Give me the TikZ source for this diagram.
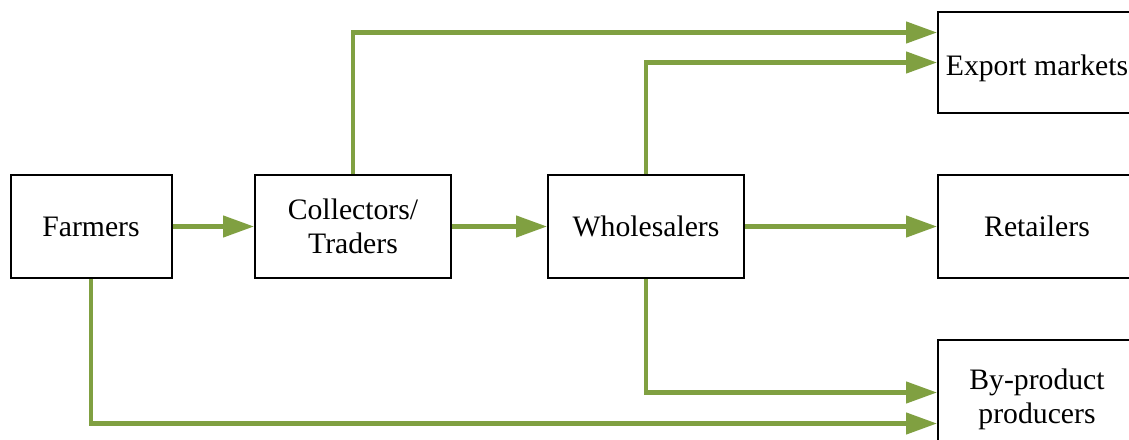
\documentclass[tikz,border=0pt]{standalone}
\usepackage{fontspec}
\setmainfont{Liberation Serif}
\usetikzlibrary{arrows.meta}
\definecolor{flow}{RGB}{128,160,65}
\begin{document}
\begin{tikzpicture}[x=1pt,y=-1pt,
  box/.style={draw=black,line width=2pt,minimum height=103pt,inner sep=0pt,
    font=\fontsize{29.7}{34}\selectfont,align=center},
  lbl/.style={inner sep=0pt,font=\fontsize{29.7}{34}\selectfont,align=center},
  flowline/.style={draw=flow,line width=4.5pt,-{Triangle[length=31pt,width=21pt]}},
]
\useasboundingbox (0,0) rectangle (1129,439);
\clip (0,0) rectangle (1129,439);
\fill[white] (0,0) rectangle (1129,439);
\node[box,minimum width=161pt] (farm) at (91,226.5) {Farmers};
\node[box,minimum width=196pt] (col) at (353,226.5) {Collectors/\\Traders};
\node[box,minimum width=196pt] (whole) at (646,226.5) {Wholesalers};
\node[box,minimum width=198pt,minimum height=101pt] (exp) at (1037,62.5) {};
\node[lbl] (exptext) at ([yshift=-6pt]exp.center) {Export markets};
\node[box,minimum width=198pt] (ret) at (1037,226.5) {Retailers};
\node[box,minimum width=198pt,minimum height=105pt] (bp) at (1037,392.5) {};
\node[lbl] (bptext) at ([yshift=-7pt]bp.center) {By-product\\producers};
\draw[flowline] (farm.east) -- (col.west);
\draw[flowline] (col.east) -- (whole.west);
\draw[flowline] (whole.east) -- (ret.west);
\draw[flowline] (col.north) |- ([yshift=30pt]exp.west);
\draw[flowline] (whole.north) |- (exp.west);
\draw[flowline] (whole.south) |- (bp.west);
\draw[flowline] (farm.south) |- ([yshift=-31pt]bp.west);
\end{tikzpicture}
\end{document}
